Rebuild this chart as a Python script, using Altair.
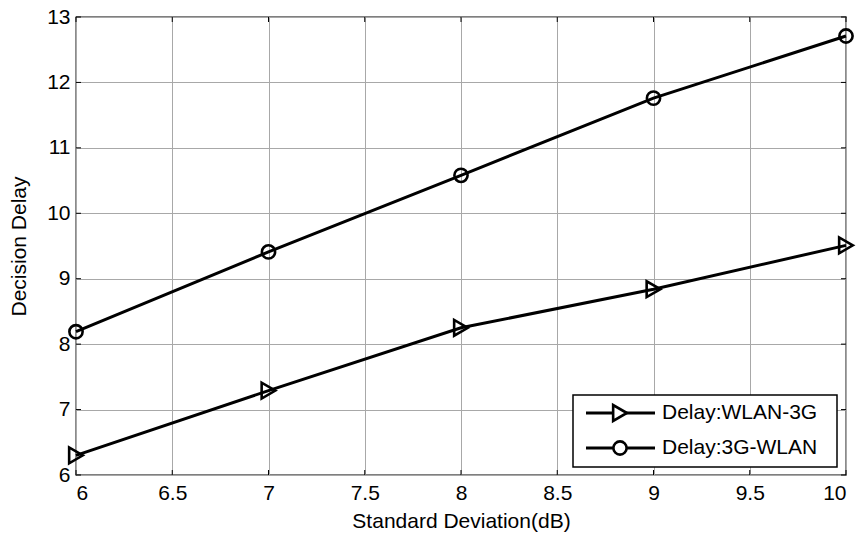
import altair as alt
import pandas as pd

x_vals = [6, 7, 8, 9, 10]
delay_wlan_3g = [6.3, 7.29, 8.25, 8.84, 9.51]
delay_3g_wlan = [8.19, 9.41, 10.58, 11.76, 12.71]
series_names = ["Delay:WLAN-3G", "Delay:3G-WLAN"]
series_shapes = ["triangle-right", "circle"]
series_sizes = [250, 175]
x_ticks = [6, 6.5, 7, 7.5, 8, 8.5, 9, 9.5, 10]
y_ticks = [6, 7, 8, 9, 10, 11, 12, 13]
x_title = "Standard Deviation(dB)"
y_title = "Decision Delay"

df = pd.DataFrame({
    "x": x_vals * 2,
    "y": delay_wlan_3g + delay_3g_wlan,
    "s": [series_names[0]] * len(x_vals) + [series_names[1]] * len(x_vals),
})

FONT = "Liberation Sans"
FS = 21
W, H = 770, 458
TK = 5

xs = alt.Scale(domain=[6, 10], nice=False, zero=False)
ys = alt.Scale(domain=[6, 13], nice=False, zero=False)

x_axis = alt.Axis(values=x_ticks, title=x_title, labelExpr="'' + datum.value",
                  grid=True, tickSize=0, labelPadding=7, domain=False,
                  titleX=W / 2, titleY=46, titleBaseline="middle", titleAlign="center")
y_axis = alt.Axis(values=y_ticks, title=y_title, labelExpr="'' + datum.value",
                  grid=True, tickSize=0, labelPadding=6, domain=False,
                  titleX=-57, titleY=H / 2, titleAngle=270, titleBaseline="middle",
                  titleAlign="center")

base = alt.Chart(df)
lines = base.mark_line(color="black", strokeWidth=3).encode(
    x=alt.X("x:Q", scale=xs, axis=x_axis),
    y=alt.Y("y:Q", scale=ys, axis=y_axis),
    detail="s:N",
)
points = base.mark_point(filled=False, color="black", strokeWidth=2.6, opacity=1).encode(
    x=alt.X("x:Q", scale=xs),
    y=alt.Y("y:Q", scale=ys),
    shape=alt.Shape("s:N", scale=alt.Scale(domain=series_names, range=series_shapes), legend=None),
    size=alt.Size("s:N", scale=alt.Scale(domain=series_names, range=series_sizes), legend=None),
)

# inward ticks on all four sides
xt = alt.Chart(pd.DataFrame({"t": x_ticks}))
yt = alt.Chart(pd.DataFrame({"t": y_ticks}))
tick_layers = [
    xt.mark_rule(color="black", strokeWidth=1).encode(x=alt.X("t:Q", scale=xs), y=alt.value(H), y2=alt.value(H - TK)),
    xt.mark_rule(color="black", strokeWidth=1).encode(x=alt.X("t:Q", scale=xs), y=alt.value(0), y2=alt.value(TK)),
    yt.mark_rule(color="black", strokeWidth=1).encode(y=alt.Y("t:Q", scale=ys), x=alt.value(0), x2=alt.value(TK)),
    yt.mark_rule(color="black", strokeWidth=1).encode(y=alt.Y("t:Q", scale=ys), x=alt.value(W), x2=alt.value(W - TK)),
]

# legend (drawn manually, MATLAB style)
box = alt.Chart(pd.DataFrame({"b": [0]})).mark_rect(fill="white", stroke="black", strokeWidth=1.5).encode(
    x=alt.value(497), x2=alt.value(761), y=alt.value(378), y2=alt.value(450)
)
leg_layers = [box]
for i, (name, shp, sz) in enumerate(zip(series_names, series_shapes, series_sizes)):
    yy = 396 + i * 35
    ldf = pd.DataFrame({"label": [name]})
    leg_layers.append(alt.Chart(ldf).mark_rule(color="black", strokeWidth=3).encode(
        x=alt.value(510), x2=alt.value(579), y=alt.value(yy)))
    leg_layers.append(alt.Chart(ldf).mark_point(filled=True, fill="white", stroke="black", strokeWidth=2.6,
                                                size=sz, opacity=1, shape=shp).encode(
        x=alt.value(544), y=alt.value(yy)))
    leg_layers.append(alt.Chart(ldf).mark_text(align="left", baseline="middle", font=FONT,
                                               fontSize=FS, color="black").encode(
        x=alt.value(586), y=alt.value(yy), text="label:N"))

chart = alt.layer(*tick_layers, lines, points, *leg_layers).properties(
    width=W, height=H,
    autosize=alt.AutoSizeParams(type="none"),
    padding={"left": 76, "top": 17, "right": 14, "bottom": 63},
    background="white",
).configure_view(
    stroke="black", strokeWidth=1.3
).configure_axis(
    labelFont=FONT, titleFont=FONT, labelFontSize=FS, titleFontSize=FS,
    labelColor="black", titleColor="black", titleFontWeight="normal",
    gridColor="#a8a8a8", gridWidth=1, gridOpacity=1,
)

chart.save("out.html", embed_options={"renderer": "svg", "actions": False})
